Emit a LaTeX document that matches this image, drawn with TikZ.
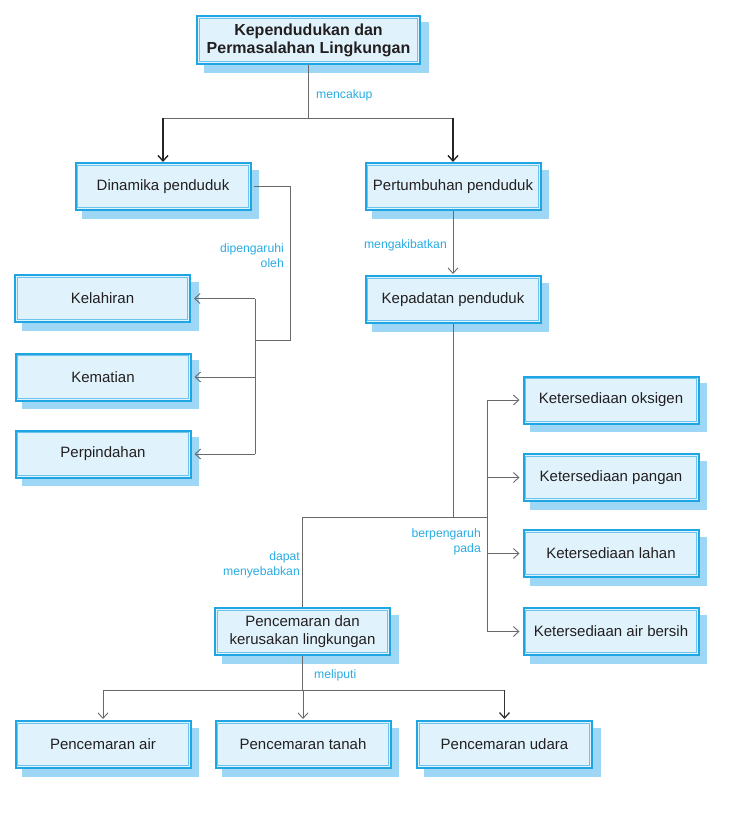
\documentclass[tikz,border=0pt]{standalone}
\usepackage{fontspec}
\setmainfont{Liberation Sans}
\usetikzlibrary{arrows.meta,backgrounds}
\definecolor{boxblue}{RGB}{30,165,228}
\definecolor{innerblue}{RGB}{110,195,238}
\definecolor{boxfill}{RGB}{224,243,253}
\definecolor{shadowblue}{RGB}{158,215,245}
\definecolor{lblue}{RGB}{41,171,226}
\definecolor{textdark}{RGB}{35,31,32}
\definecolor{linegray}{RGB}{105,105,105}
\begin{document}
\begin{tikzpicture}[x=1pt,y=-1pt,
  cbox/.style={draw=boxblue, line width=2pt, fill=boxfill,
    minimum width=175pt, minimum height=47pt, inner sep=0pt,
    font=\fontsize{15}{18.5}\selectfont, text=textdark, align=center},
  inner/.style={draw=innerblue, line width=0.7pt},
  shad/.style={fill=shadowblue},
  lbl/.style={text=lblue, font=\fontsize{12.2}{14.8}\selectfont, inner sep=0pt, align=right},
  ln/.style={draw=linegray, line width=0.9pt},
  arr/.style={ln, -{Straight Barb[length=5.5pt,width=10pt]}, shorten >=3pt},
  dkarr/.style={draw=black!85, line width=1.4pt, -{Straight Barb[length=5.5pt,width=10pt]}}
]
\useasboundingbox (0,0) rectangle (730,816);

% boxes
\node[cbox, minimum width=223pt, minimum height=48pt, font=\bfseries\fontsize{16}{18}\selectfont] (title) at (308.5,40) {Kependudukan dan\\Permasalahan Lingkungan};
\node[cbox] (din) at (163,186.5) {Dinamika penduduk};
\node[cbox] (per) at (453,186.5) {Pertumbuhan penduduk};
\node[cbox] (kel) at (102.5,298.5) {Kelahiran};
\node[cbox] (kem) at (103,377) {Kematian};
\node[cbox] (pin) at (103,454) {Perpindahan};
\node[cbox] (kep) at (453,299.5) {Kepadatan penduduk};
\node[cbox] (oks) at (611,400) {Ketersediaan oksigen};
\node[cbox] (pan) at (611,477.5) {Ketersediaan pangan};
\node[cbox] (lah) at (611,553.5) {Ketersediaan lahan};
\node[cbox] (bsh) at (611,631.5) {Ketersediaan air bersih};
\node[cbox] (pk) at (302.5,631.5) {Pencemaran dan\\kerusakan lingkungan};
\node[cbox] (pa) at (103,744.5) {Pencemaran air};
\node[cbox] (pt) at (303,744.5) {Pencemaran tanah};
\node[cbox] (pu) at (504.5,744.5) {Pencemaran udara};

% shadows and inner lines
\begin{scope}[on background layer]
\foreach \n in {title,din,per,kel,kem,pin,kep,oks,pan,lah,bsh,pk,pa,pt,pu}
  \fill[shad] ([shift={(7.5pt,-7.5pt)}]\n.north west) rectangle ([shift={(7.5pt,-7.5pt)}]\n.south east);
\end{scope}
\foreach \n in {title,din,per,kel,kem,pin,kep,oks,pan,lah,bsh,pk,pa,pt,pu}
  \draw[inner] ([shift={(3.2pt,-3.2pt)}]\n.north west) rectangle ([shift={(-3.2pt,3.2pt)}]\n.south east);

% helper coordinates
\coordinate (y118) at (0,118);
\coordinate (vd) at (255,340);
\coordinate (hk) at (453,517);
\coordinate (vk) at (487,517);
\coordinate (yb) at (0,690);

% title connectors
\draw[ln] (title.south) -- (title.south |- y118) coordinate (j1);
\draw[ln] (din.north |- y118) -- (per.north |- y118);
\draw[dkarr] (din.north |- y118) -- (din.north);
\draw[dkarr] (per.north |- y118) -- (per.north);

% dinamika
\draw[ln, shorten <=2pt] (din.east) -- ++(39,0) |- (vd);
\draw[ln] (kel.east -| vd) -- (pin.east -| vd);
\draw[arr] (kel.east -| vd) -- (kel.east);
\draw[arr] (kem.east -| vd) -- (kem.east);
\draw[arr] (pin.east -| vd) -- (pin.east);

% pertumbuhan -> kepadatan
\draw[arr, shorten >=1pt] (per.south) -- (kep.north);

% kepadatan
\draw[ln] (kep.south) -- (hk);
\draw[ln] (pk.north) |- (vk);
\draw[ln] (oks.west -| vk) -- (bsh.west -| vk);
\draw[arr] (oks.west -| vk) -- (oks.west);
\draw[arr] (pan.west -| vk) -- (pan.west);
\draw[arr] (lah.west -| vk) -- (lah.west);
\draw[arr] (bsh.west -| vk) -- (bsh.west);

% pencemaran
\draw[ln] (pk.south) -- (pk.south |- yb) coordinate (j2);
\draw[ln] (pa.north |- yb) -- (pu.north |- yb);
\draw[arr, shorten >=1pt] (pa.north |- yb) -- (pa.north);
\draw[arr, shorten >=1pt] (pt.north |- yb) -- (pt.north);
\draw[arr, shorten >=1pt, line width=1.3pt, draw=black!80] (pu.north |- yb) -- (pu.north);

% labels
\node[lbl, anchor=west] (l1) at (316,95) {mencakup};
\node[lbl, anchor=east] (l2) at (284,255.5) {dipengaruhi\\oleh};
\node[lbl, anchor=east] (l3) at (447,245) {mengakibatkan};
\node[lbl, anchor=east] (l4) at (481,542) {berpengaruh\\pada};
\node[lbl, anchor=east] (l5) at (300,565) {dapat\\menyebabkan};
\node[lbl, anchor=west] (l6) at (314,675) {meliputi};
\end{tikzpicture}
\end{document}
